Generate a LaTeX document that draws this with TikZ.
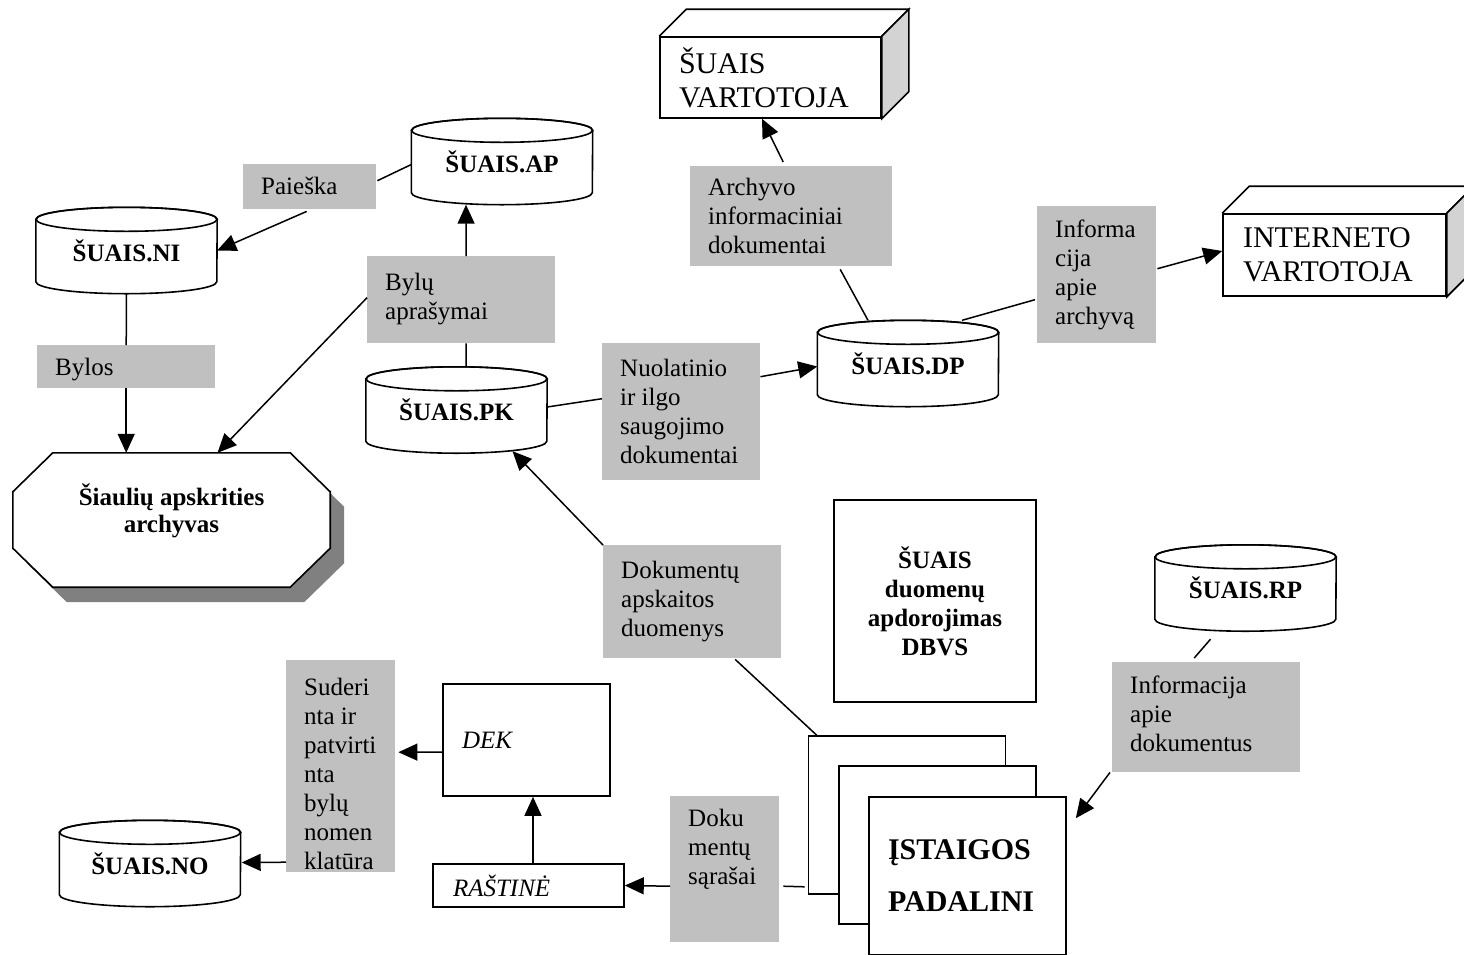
\documentclass[tikz,border=0pt]{standalone}
\usepackage{fontspec}
\setmainfont{Liberation Serif}
\usetikzlibrary{arrows.meta,calc}
\pgfdeclarelayer{background}
\pgfsetlayers{background,main}
\hyphenpenalty=10000
\exhyphenpenalty=10000
\definecolor{boxgray}{RGB}{192,192,192}
\definecolor{sidegray}{RGB}{211,211,211}
\definecolor{shadowgray}{RGB}{128,128,128}
% grey label text: width, height, first baseline, text
\newcommand\gtxt[4]{\parbox[c][#2pt][t]{#1pt}{\raggedright\leftskip=18pt\rule{0pt}{#3pt}#4}}
% cylinder outline around a named node
\newcommand\cylout[1]{%
  \draw[outl] ([yshift=-12pt]#1.north west) -- ([yshift=12pt]#1.south west)
    arc[start angle=180,end angle=360,x radius=90.5pt,y radius=12pt]
    -- ([yshift=-12pt]#1.north east)
    arc[start angle=0,end angle=180,x radius=90.5pt,y radius=12pt] -- cycle;
  \draw[outl] ([yshift=-12pt]#1.north) ellipse[x radius=90.5pt,y radius=12pt];}
% box drawn as a solid block
\newcommand\cubeout[1]{%
  \draw[outl] (#1.north west) -- ++(27,-27) -- ($(#1.north east)+(27,-27)$) -- (#1.north east);
  \draw[outl,fill=sidegray] (#1.north east) -- ++(27,-27) -- ($(#1.south east)+(27,-27)$) -- (#1.south east) -- cycle;}
% octagon with cut corners around a named node, moved by an offset
\newcommand\octpath[2]{($(#1.north west)+(40,0)+#2$) -- ($(#1.north east)+(-40,0)+#2$)
  -- ($(#1.north east)+(0,39)+#2$) -- ($(#1.south east)+(0,-39)+#2$)
  -- ($(#1.south east)+(-40,0)+#2$) -- ($(#1.south west)+(40,0)+#2$)
  -- ($(#1.south west)+(0,-39)+#2$) -- ($(#1.north west)+(0,39)+#2$) -- cycle}
\begin{document}
\begin{tikzpicture}[x=1pt,y=-1pt,
  every node/.style={font=\fontsize{25}{29}\selectfont},
  outl/.style={draw=black,line width=1.6pt},
  wbox/.style={draw=black,line width=1.6pt,fill=white,inner sep=0pt},
  gbox/.style={fill=boxgray,inner sep=0pt,anchor=north west},
  cyl/.style={inner sep=0pt,minimum width=181pt,minimum height=86pt,font=\fontsize{25}{29}\selectfont\bfseries},
  cube/.style={wbox,align=left,font=\fontsize{30}{34}\selectfont},
  page/.style={wbox,minimum width=197pt,minimum height=158pt},
  link/.style={line width=1.5pt},
  arr/.style={link,-{Triangle[length=19pt,width=17pt]}}]
\useasboundingbox (0,0) rectangle (1464,954);

% databases
\node[cyl] (ni) at (126.5,250.5) {ŠUAIS.NI};
\node[cyl] (ap) at (502,161.5) {ŠUAIS.AP};
\node[cyl] (pk) at (456.5,410) {ŠUAIS.PK};
\node[cyl] (dp) at (908,363.5) {ŠUAIS.DP};
\node[cyl] (rp) at (1245.5,588) {ŠUAIS.RP};
\node[cyl] (no) at (150,863.5) {ŠUAIS.NO};
\foreach \c in {ni,ap,pk,dp,rp,no} {\cylout{\c}}

% users
\node[cube,minimum width=221pt,minimum height=81pt,text width=183pt,inner xsep=19pt] (vart) at (770.5,77.5) {ŠUAIS\\VARTOTOJA};
\node[cube,minimum width=223pt,minimum height=82pt,text width=183pt,inner xsep=20pt] (inet) at (1334.5,255) {INTERNETO\\VARTOTOJA};
\cubeout{vart}
\cubeout{inet}

% archive, with its shadow
\node[minimum width=317pt,minimum height=134pt,inner sep=0pt,
  label={[font=\fontsize{25}{27}\selectfont\bfseries,align=center,yshift=9pt]center:{Šiaulių apskrities\\archyvas}}]
  (arch) at (171.5,520) {};
\begin{pgfonlayer}{background}
  \fill[shadowgray] \octpath{arch}{(14,15)};
  \draw[outl,fill=white] \octpath{arch}{(0,0)};
\end{pgfonlayer}

% processing boxes
\node[wbox,minimum width=202pt,minimum height=202pt,align=center,font=\fontsize{25}{29}\selectfont\bfseries] (dbvs) at (935,601) {ŠUAIS\\duomenų\\apdorojimas\\DBVS};
\node[wbox,minimum height=112pt,inner xsep=19pt,text width=129pt,align=left,font=\fontsize{25}{29}\selectfont\itshape] (dek) at (526.5,740) {DEK};
\node[wbox,minimum height=43pt,inner xsep=20pt,text width=151pt,align=left,font=\fontsize{25}{29}\selectfont\itshape] (ras) at (528.5,885.5) {RAŠTINĖ};

% departments
\node[page] (p1) at (907,815) {};
\node[page] (p2) at (937.5,845) {};
\node[page,inner xsep=19pt,text width=159pt,align=left,font=\fontsize{30}{52}\selectfont\bfseries] (p3) at (967.5,876) {ĮSTAIGOS\\PADALINI};

% flow labels
\node[gbox] (pai) at (243,164) {\gtxt{133}{45}{30}{Paieška}};
\node[gbox] (byl) at (37,345) {\gtxt{178}{43}{30}{Bylos}};
\node[gbox] (bap) at (367,256) {\gtxt{188}{87}{34}{Bylų\\aprašymai}};
\node[gbox] (arcb) at (690,166) {\gtxt{202}{100}{29}{Archyvo\\informaciniai\\dokumentai}};
\node[gbox] (infa) at (1037,206) {\gtxt{119}{137}{31}{Informa\\cija\\apie\\archyvą}};
\node[gbox] (nuo) at (602,343) {\gtxt{158}{137}{33}{Nuolatinio\\ir ilgo\\saugojimo\\dokumentai}};
\node[gbox] (dok) at (603,545) {\gtxt{178}{113}{33}{Dokumentų\\apskaitos\\duomenys}};
\node[gbox] (sud) at (286,660) {\gtxt{109}{212}{35}{Suderi\\nta ir\\patvirti\\nta\\bylų\\nomen\\klatūra}};
\node[gbox] (dmt) at (670,796) {\gtxt{109}{146}{30}{Doku\\mentų\\sąrašai}};
\node[gbox] (ida) at (1112,662) {\gtxt{188}{110}{31}{Informacija\\apie\\dokumentus}};

% connectors
\draw[link] ($(ap.west)+(0,3)$) -- ($(pai.east)+(1,-6)$);
\draw[arr] ($(pai.south)+(-3,2)$) -- (ni.east);
\draw[link] (ni.south) -- (byl.north);
\draw[arr] (byl.south) -- (byl.south |- arch.north);
\draw[arr] ($(bap.west)+(0,-2)$) -- ($(arch.north)+(46,0)$);
\draw[link] ($(bap.south)+(5,0)$) -- ($(pk.north)+(9.5,0)$);
\draw[arr] ($(bap.north)+(5,0)$) -- ($(ap.south)+(-36,0)$);
\draw[link] ($(pk.east)+(0,-3)$) -- ($(nuo.west)+(0,-13)$);
\draw[arr] ($(nuo.east)+(0,-35)$) -- ($(dp.west)+(0,3)$);
\draw[link] ($(dp.north)+(-40,0)$) -- ($(arcb.south)+(49,3)$);
\draw[arr] ($(arcb.north)+(-8,-4)$) -- ($(vart.south)+(-8.5,0)$);
\draw[link] ($(dp.north)+(54,0)$) -- ($(infa.west)+(-2,25)$);
\draw[arr] ($(infa.east)+(1,-6)$) -- ($(inet.west)+(0,-4)$);
\draw[link] ($(p1.north west)+(9,0)$) -- ($(dok.south)+(43,1)$);
\draw[arr] (dok.north west) -- ($(pk.south)+(56,-2)$);
\draw[link] ($(rp.south)+(-35,8)$) -- ($(ida.north)+(-12,-4)$);
\draw[arr] ($(ida.south west)+(-2,0)$) -- ($(p3.north east)+(9,22)$);
\draw[link] ($(p1.south west)+(-3,-8)$) -- ($(dmt.east)+(4,17)$);
\draw[arr] ($(dmt.west)+(0,17)$) -- (ras.east);
\draw[arr] ($(ras.north)+(4.5,0)$) -- ($(dek.south)+(6.5,0)$);
\draw[arr] ($(dek.west)+(0,12)$) -- ($(sud.east)+(3,-14)$);
\draw[arr] ($(sud.west)+(0,96)$) -- ($(no.east)+(1,-1)$);
\end{tikzpicture}
\end{document}
